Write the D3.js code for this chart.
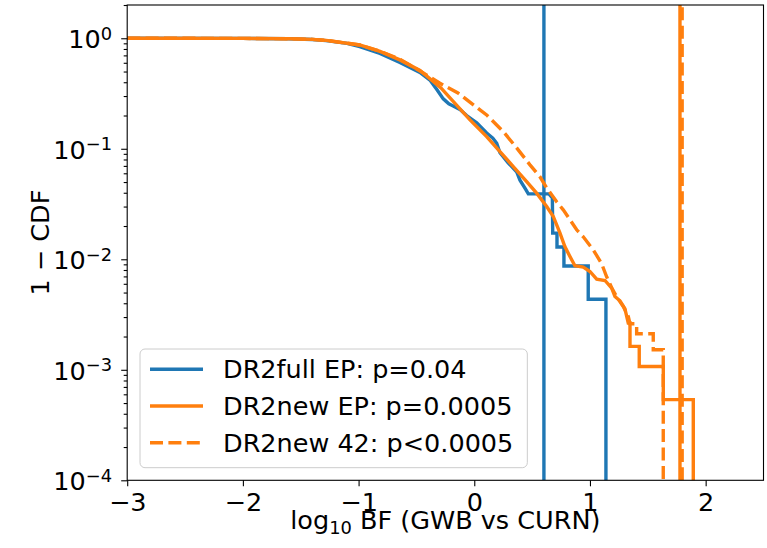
<!DOCTYPE html>
<html>
<head>
<meta charset="utf-8">
<script src="https://cdn.jsdelivr.net/npm/d3@7"></script>
<style>
  body { margin: 0; background: #fff; }
  text { font-family: "DejaVu Sans", sans-serif; fill: #000; }
</style>
</head>
<body>
<script>
// survival curves (1 - CDF), as [log10 BF, 1-CDF]
var dr2fullEP = [
    [-3.0, 1.0], [-2.0, 0.998], [-1.6, 0.99], [-1.4, 0.975], [-1.28, 0.951],
    [-1.1, 0.9], [-0.99, 0.84], [-0.815, 0.73], [-0.643, 0.605], [-0.47, 0.49],
    [-0.38, 0.415], [-0.325, 0.345], [-0.268, 0.283], [-0.22, 0.255], [-0.182, 0.244],
    [-0.12, 0.225], [-0.066, 0.2], [0.021, 0.172], [0.107, 0.139], [0.16, 0.125],
    [0.194, 0.112], [0.222, 0.092], [0.291, 0.075], [0.33, 0.068], [0.366, 0.062],
    [0.395, 0.052], [0.438, 0.044], [0.467, 0.0391], [0.645, 0.0391], [0.675, 0.036],
    [0.678, 0.01725], [0.715, 0.01725], [0.715, 0.0129], [0.775, 0.0129], [0.775, 0.0087],
    [0.985, 0.0087], [0.985, 0.00435], [1.138, 0.00435], [1.138, 0]
];
var dr2newEP = [
    [-3.0, 1.0], [-2.0, 0.998], [-1.6, 0.99], [-1.4, 0.978], [-1.28, 0.958],
    [-0.99, 0.87], [-0.815, 0.76], [-0.643, 0.637], [-0.469, 0.512], [-0.288, 0.355],
    [-0.037, 0.1825], [0.107, 0.1289], [0.222, 0.0943], [0.337, 0.069], [0.453, 0.0505],
    [0.539, 0.0397], [0.626, 0.030], [0.683, 0.0244], [0.741, 0.01725], [0.783, 0.01305],
    [0.827, 0.0106], [0.87, 0.00873], [0.942, 0.0085], [1.0, 0.00776], [1.058, 0.00662],
    [1.13, 0.00643], [1.188, 0.00549], [1.216, 0.00461], [1.259, 0.00421], [1.302, 0.00357],
    [1.331, 0.00265], [1.346, 0.00265], [1.346, 0.00163], [1.426, 0.00163], [1.426, 0.00107],
    [1.634, 0.00107], [1.634, 0.000537], [1.893, 0.000537], [1.893, 0]
];
var dr2new42 = [
    [-3.0, 1.0], [-2.0, 0.998], [-1.6, 0.99], [-1.4, 0.978], [-1.28, 0.958],
    [-0.99, 0.87], [-0.815, 0.765], [-0.643, 0.645], [-0.469, 0.505], [-0.2965, 0.392],
    [-0.141, 0.320], [0.107, 0.2025], [0.2507, 0.143], [0.3665, 0.1019], [0.4814, 0.0715],
    [0.5679, 0.0557], [0.6257, 0.0443], [0.7122, 0.0331], [0.7692, 0.028], [0.8271, 0.0228],
    [0.885, 0.01848], [0.942, 0.01597], [1.0285, 0.01219], [1.1011, 0.00911], [1.1443, 0.00695],
    [1.1876, 0.00553], [1.2308, 0.00458], [1.2878, 0.00374], [1.331, 0.00304], [1.3457, 0.00261],
    [1.4036, 0.00261], [1.4036, 0.00212], [1.547, 0.00212], [1.547, 0.00152], [1.6335, 0.00152],
    [1.6335, 0]
];
// observed log10 BF of each run (vertical lines)
var observed = [0.602, 1.778, 1.797];
var labels = ["DR2full EP: p=0.04", "DR2new EP: p=0.0005", "DR2new 42: p<0.0005"];
var colors = ["#1f77b4", "#ff7f0e", "#ff7f0e"];
var dashes = [null, null, "13,5.4"];

var xTicks = [-3, -2, -1, 0, 1, 2];
var yTicks = [1e-4, 1e-3, 1e-2, 1e-1, 1];

var width = 767, height = 548;
var pL = 127.2, pR = 763.5, pT = 5, pB = 480.3;
var fs = 25.5;

var svg = d3.select("body").append("svg")
    .attr("width", width)
    .attr("height", height);

var x = d3.scaleLinear().domain([-3, 2.5]).range([pL, pR]);
var y = d3.scaleLog().domain([1e-4, 2]).range([pB, pT]);

svg.append("clipPath").attr("id", "plotclip")
    .append("rect")
    .attr("x", pL).attr("y", pT)
    .attr("width", pR - pL).attr("height", pB - pT);

var line = d3.line()
    .x(function(d) { return x(d[0]); })
    .y(function(d) { return y(Math.max(d[1], 1e-7)); });

var plot = svg.append("g").attr("clip-path", "url(#plotclip)");
[dr2fullEP, dr2newEP, dr2new42].forEach(function(series, i) {
    plot.append("path")
        .datum(series)
        .attr("d", line)
        .attr("fill", "none")
        .attr("stroke", colors[i])
        .attr("stroke-width", 3.4)
        .attr("stroke-dasharray", dashes[i]);
    plot.append("line")
        .attr("x1", x(observed[i])).attr("x2", x(observed[i]))
        .attr("y1", pB).attr("y2", pT)
        .attr("stroke", colors[i])
        .attr("stroke-width", 3.4)
        .attr("stroke-dasharray", dashes[i]);
});

// x axis
var xAxis = svg.append("g")
    .attr("transform", "translate(0," + pB + ")")
    .call(d3.axisBottom(x).tickValues(xTicks).tickSize(6).tickPadding(7)
        .tickFormat(function(d) { return d < 0 ? "\u2212" + Math.abs(d) : d; }));
xAxis.select(".domain").remove();
xAxis.selectAll("text").style("font-size", fs + "px").attr("fill", "#000");

// y axis, major + minor ticks
var minors = [];
for (var e = -4; e <= 0; e++) {
    for (var m = 2; m <= 9; m++) {
        var v = m * Math.pow(10, e);
        if (v <= 2) minors.push(v);
    }
}
var yAxis = svg.append("g")
    .attr("transform", "translate(" + pL + ",0)")
    .call(d3.axisLeft(y).tickValues(yTicks).tickSize(6).tickFormat(""));
yAxis.select(".domain").remove();
var yMinor = svg.append("g")
    .attr("transform", "translate(" + pL + ",0)")
    .call(d3.axisLeft(y).tickValues(minors).tickSize(3.5).tickFormat(""));
yMinor.select(".domain").remove();
svg.selectAll(".tick line").attr("stroke", "#000").attr("stroke-width", 1.1);

yTicks.forEach(function(v) {
    var ex = Math.round(Math.log10(v));
    var t = svg.append("text")
        .attr("x", 112)
        .attr("y", y(v) + 10)
        .attr("text-anchor", "end")
        .style("font-size", fs + "px")
        .text("10");
    t.append("tspan")
        .attr("dy", -8.5)
        .style("font-size", (fs * 0.7) + "px")
        .text(ex < 0 ? "\u2212" + Math.abs(ex) : ex);
});

// frame
svg.append("rect")
    .attr("x", pL).attr("y", pT)
    .attr("width", pR - pL).attr("height", pB - pT)
    .attr("fill", "none")
    .attr("stroke", "#000")
    .attr("stroke-width", 1.1);

// axis labels
var xl = svg.append("text")
    .attr("x", (pL + pR) / 2)
    .attr("y", 529)
    .attr("text-anchor", "middle")
    .style("font-size", fs + "px")
    .text("log");
xl.append("tspan").attr("dy", 5).style("font-size", (fs * 0.7) + "px").text("10");
xl.append("tspan").attr("dy", -5).text(" BF (GWB vs CURN)");

svg.append("text")
    .attr("transform", "translate(49," + ((pT + pB) / 2) + ") rotate(-90)")
    .attr("text-anchor", "middle")
    .style("font-size", fs + "px")
    .text("1 \u2212 CDF");

// legend
var legend = svg.append("g");
var box = legend.append("rect")
    .attr("x", 140).attr("y", 349)
    .attr("height", 118.7)
    .attr("rx", 5)
    .attr("fill", "#fff")
    .attr("fill-opacity", 0.8)
    .attr("stroke", "#cccccc")
    .attr("stroke-width", 1);
var maxLen = 0;
labels.forEach(function(lab, i) {
    var ry = 369.3 + i * 36.7;
    legend.append("line")
        .attr("x1", 150).attr("x2", 203)
        .attr("y1", ry).attr("y2", ry)
        .attr("stroke", colors[i])
        .attr("stroke-width", 3.4)
        .attr("stroke-dasharray", dashes[i]);
    var t = legend.append("text")
        .attr("x", 223)
        .attr("y", ry)
        .attr("dy", "0.36em")
        .style("font-size", fs + "px")
        .text(lab);
    maxLen = Math.max(maxLen, t.node().getComputedTextLength());
});
box.attr("width", 223 + maxLen + 14 - 140);
</script>
</body>
</html>
